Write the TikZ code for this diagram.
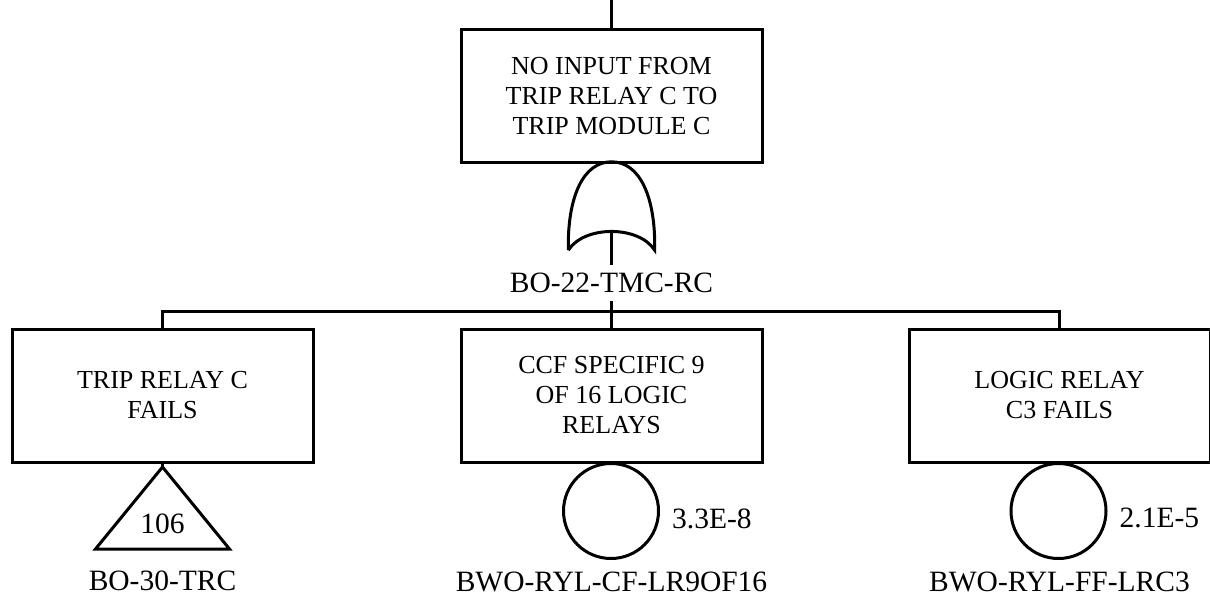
\documentclass[tikz,border=0pt]{standalone}
\usepackage{fontspec}
\setmainfont{Liberation Serif}
\usetikzlibrary{positioning,calc}

\begin{document}
\begin{tikzpicture}[
  x=1pt, y=-1pt,
  event/.style={draw, line width=3pt, minimum width=301pt, minimum height=133pt,
    align=center, inner sep=0pt, font=\fontsize{26}{30}\selectfont},
  tag/.style={inner sep=0pt, font=\fontsize{29.5}{34}\selectfont},
  basic/.style={draw, circle, line width=3pt, minimum size=95pt, inner sep=0pt},
  gatebox/.style={minimum width=88pt, minimum height=88pt, inner sep=0pt},
  link/.style={line width=3pt}
]
  \useasboundingbox (0,0) rectangle (1210,600);

  % top event and OR gate
  \coordinate (in) at (611.5,0);
  \node[event] (top) at (611.5,96) {NO INPUT FROM\\TRIP RELAY C TO\\TRIP MODULE C};
  \node[gatebox] (gate) at (611.5,206) {};
  \draw[link] ($(gate.south west)+(1,0)$)
    .. controls +(-1,-54) and +(-28,0) .. (gate.north)
    .. controls +(28,0) and +(1,-54) .. ($(gate.south east)+(-1,0)$)
    .. controls +(-16,-25) and +(16,-25) .. ($(gate.south west)+(1,0)$);
  \coordinate (gatein) at (611.5,231);
  \node[tag, inner ysep=8pt] (gname) at (611.5,283) {BO-22-TMC-RC};
  \coordinate (bus) at (611.5,311);

  % inputs
  \node[event] (trc) at (162.5,395.5) {TRIP RELAY C\\FAILS};
  \node[event] (ccf) at (611.5,395.5) {CCF SPECIFIC 9\\OF 16 LOGIC\\RELAYS};
  \node[event] (lrc) at (1059.5,395.5) {LOGIC RELAY\\C3 FAILS};

  % transfer and basic events
  \coordinate (xin) at (162.5,467);
  \draw[link, line join=miter] (xin) -- ++(67,82) -- ++(-134,0) -- cycle;
  \node[tag] (xfer) at (162.5,524) {106};
  \node[tag] (xname) at (162.5,581) {BO-30-TRC};

  \node[basic] (ccfev) at (611,511) {};
  \node[tag, right=12pt of ccfev, yshift=-8pt] (ccfp) {3.3E-8};
  \node[tag] (ccfname) at (611.5,582) {BWO-RYL-CF-LR9OF16};

  \node[basic] (lrcev) at (1058.5,511) {};
  \node[tag, right=12pt of lrcev, yshift=-7pt] (lrcp) {2.1E-5};
  \node[tag] (lrcname) at (1059.5,582) {BWO-RYL-FF-LRC3};

  % connectors
  \draw[link] (in) -- (top.north);
  \draw[link] (gatein) -- (gname.north);
  \draw[link] (gname.south) -- (bus);
  \draw[link] (trc.north) |- (bus) -| (lrc.north);
  \draw[link] (bus) -- (ccf.north);
  \draw[link] (trc.south) -- (xin);
  \draw[link] (ccf.south) -- (ccfev.north);
  \draw[link] (lrc.south) -- (lrcev.north);
\end{tikzpicture}
\end{document}
